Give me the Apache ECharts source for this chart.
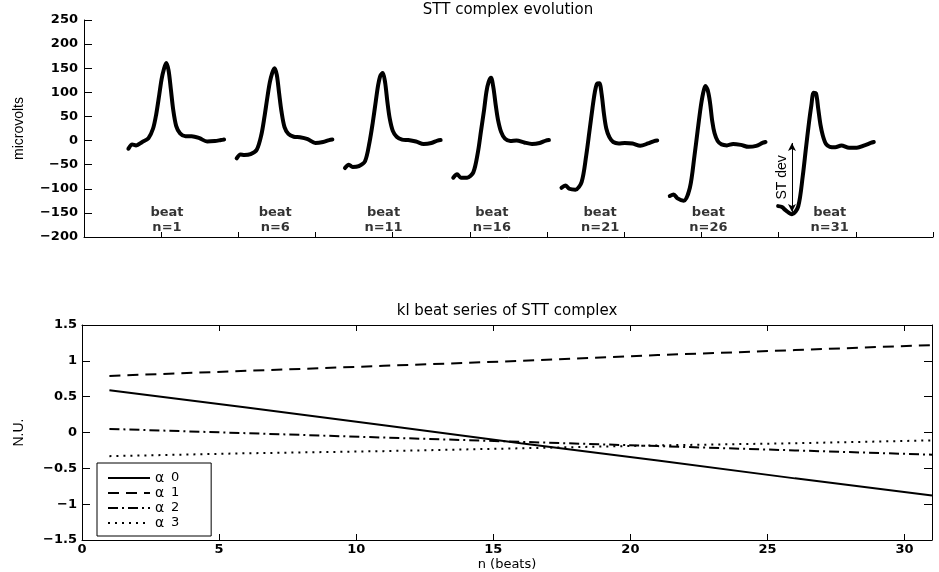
<!DOCTYPE html>
<html>
<head>
<meta charset="utf-8">
<script src="https://cdn.jsdelivr.net/npm/echarts@6/dist/echarts.min.js"></script>
<style>
  html, body { margin: 0; padding: 0; background: #fff; }
  #chart { width: 939px; height: 572px; }
</style>
</head>
<body>
<div id="chart"></div>
<script>
// ---- STT complex evolution (top panel) ----
// beats shown, and the sample offsets (within each beat) at which the waveform is given
const beatNumbers = [1, 6, 11, 16, 21, 26, 31];
const sampleOffsets = [0, 5, 10, 18, 26, 32, 36, 40, 43, 46, 49, 52, 55, 58, 62, 67, 74, 82, 92, 102, 112, 120, 124];

// STT waveforms in microvolts
const beatN1  = [-17, -8, -10, -3, 5, 25, 54, 95, 127, 148, 161, 146, 107, 65, 30, 15, 9, 9, 5, -2, -1, 1, 2];
const beatN6  = [-37, -29, -30, -28, -19, 12, 49, 92, 121, 140, 150, 136, 98, 61, 28, 14, 8, 7, 3, -5, -3, 1, 2];
const beatN11 = [-57, -50, -55, -53, -43, -2, 37, 82, 115, 135, 140, 121, 80, 46, 20, 8, 2, 1, -2, -7, -5, 0, 1];
const beatN16 = [-77, -70, -77, -77, -66, -24, 20, 64, 101, 122, 130, 110, 74, 43, 18, 4, -1, 0, -4, -7, -5, 0, 1];
const beatN21 = [-98, -93, -100, -102, -86, -31, 17, 66, 99, 118, 119, 96, 55, 25, 7, -3, -6, -5, -6, -11, -6, -1, 0];
const beatN26 = [-115, -112, -120, -125, -98, -31, 20, 69, 97, 113, 105, 80, 40, 15, -1, -8, -10, -7, -9, -13, -11, -5, -3];
const beatN31 = [-136, -138, -145, -153, -137, -73, -17, 37, 72, 99, 98, 66, 32, 10, -7, -13, -14, -10, -15, -15, -10, -5, -3];
const beatWaves = [beatN1, beatN6, beatN11, beatN16, beatN21, beatN26, beatN31];

// ST deviation of the last beat (bottom and top of the arrow, microvolts)
const stDev = [-148, -5];

const microvoltTicks = [-200, -150, -100, -50, 0, 50, 100, 150, 200, 250];
const sampleAxisExtent = [0, 1100];

// ---- KL beat series (bottom panel) ----
const klBeats = [1, 6, 11, 16, 21, 26, 31];
const alpha0 = [0.59, 0.35, 0.10, -0.15, -0.39, -0.64, -0.88];
const alpha1 = [0.79, 0.86, 0.93, 1.00, 1.08, 1.15, 1.22];
const alpha2 = [0.05, -0.01, -0.07, -0.13, -0.19, -0.25, -0.31];
const alpha3 = [-0.33, -0.29, -0.26, -0.22, -0.18, -0.15, -0.11];
const alphaNames = ['α0', 'α1', 'α2', 'α3'];
const nuTicks = [-1.5, -1, -0.5, 0, 0.5, 1, 1.5];
const beatTicks = [0, 5, 10, 15, 20, 25, 30];

// concatenated layout of the beats on the sample axis
const firstBeatStart = 57.5;
const beatSpacing = 140.3;

const WIDE = "'DejaVu Sans', 'Liberation Sans', sans-serif";
const NARROW = "'Liberation Sans', 'DejaVu Sans', sans-serif";
const minus = v => (v < 0 ? '\u2212' : '') + Math.abs(v);

const blackLine = { show: true, onZero: false, lineStyle: { color: '#000', width: 1 } };
const tickLabelStyle = { color: '#000', fontFamily: WIDE, fontSize: 13, fontWeight: 'bold' };

const beatSeries = beatWaves.map((wave, k) => {
  const start = firstBeatStart + k * beatSpacing;
  const s = {
    type: 'line',
    xAxisIndex: 0, yAxisIndex: 0,
    data: wave.map((v, i) => [start + sampleOffsets[i], v]),
    symbol: 'none',
    smooth: 0.3,
    lineStyle: { color: '#000', width: 4, cap: 'round', join: 'round' },
    silent: true
  };
  if (k === beatWaves.length - 1) {
    const ax = start + 18;
    s.markLine = {
      silent: true,
      symbol: ['arrow', 'arrow'],
      symbolSize: [6, 8],
      lineStyle: { color: '#000', width: 1, type: 'solid' },
      label: {
        show: true, formatter: 'ST dev', position: 'insideMiddleTop', distance: 3,
        color: '#000', fontFamily: NARROW, fontSize: 14
      },
      data: [[{ coord: [ax, stDev[0]] }, { coord: [ax, stDev[1]] }]]
    };
  }
  return s;
});

const beatLabelSeries = {
  type: 'scatter',
  xAxisIndex: 0, yAxisIndex: 0,
  symbolSize: 0,
  silent: true,
  data: beatNumbers.map((n, k) => {
    const item = { value: [firstBeatStart + k * beatSpacing + 50, -166] };
    if (k === beatNumbers.length - 1) item.label = { offset: [13, 0] };
    return item;
  }),
  label: {
    show: true, position: 'inside',
    formatter: p => 'beat\nn=' + beatNumbers[p.dataIndex],
    color: '#000', fontFamily: WIDE, fontSize: 13, fontWeight: 'bold', lineHeight: 15
  }
};

const alphaData = [alpha0, alpha1, alpha2, alpha3];
const alphaDash = ['solid', [11, 7], [10, 4, 2, 4], [2, 5]];
const alphaSeries = alphaData.map((vals, i) => ({
  type: 'line',
  name: alphaNames[i],
  xAxisIndex: 1, yAxisIndex: 1,
  data: klBeats.map((n, j) => [n, vals[j]]),
  symbol: 'none',
  lineStyle: { color: '#000', width: 2, type: alphaDash[i] },
  itemStyle: { color: '#000' },
  silent: true
}));

const option = {
  backgroundColor: '#fff',
  animation: false,
  title: [
    {
      text: 'STT complex evolution', left: 508, top: 3, textAlign: 'center', padding: 0,
      textStyle: { color: '#000', fontFamily: WIDE, fontSize: 15, fontWeight: 'normal' }
    },
    {
      text: 'kl beat series of STT complex', left: 507, top: 304, textAlign: 'center', padding: 0,
      textStyle: { color: '#000', fontFamily: WIDE, fontSize: 15, fontWeight: 'normal' }
    }
  ],
  grid: [
    { left: 84, right: 6, top: 20, height: 217 },
    { left: 82, right: 7, top: 325, height: 216 }
  ],
  legend: {
    data: alphaNames,
    orient: 'vertical',
    left: 97, top: 463,
    itemWidth: 42, itemHeight: 14, itemGap: 1,
    padding: [8, 32, 6, 10],
    borderColor: '#000', borderWidth: 1, backgroundColor: '#fff',
    selectedMode: false,
    itemStyle: { opacity: 0 },
    formatter: name => '{g|α}  {d|' + name.slice(1) + '}',
    textStyle: {
      color: '#000',
      rich: {
        g: { fontFamily: WIDE, fontSize: 14, color: '#000', lineHeight: 14 },
        d: { fontFamily: WIDE, fontSize: 13, color: '#000', lineHeight: 14 }
      }
    }
  },
  xAxis: [
    {
      gridIndex: 0, type: 'value',
      min: sampleAxisExtent[0], max: sampleAxisExtent[1], interval: 100,
      axisLine: blackLine,
      axisTick: { show: true, inside: true, length: 5, lineStyle: { color: '#000' } },
      axisLabel: { show: false },
      splitLine: { show: false }
    },
    {
      gridIndex: 1, type: 'value', position: 'bottom',
      min: beatTicks[0], max: 31, interval: 5,
      axisLine: blackLine,
      axisTick: { show: true, inside: true, length: 6, lineStyle: { color: '#000' } },
      axisLabel: Object.assign({ margin: 3, showMaxLabel: false }, tickLabelStyle),
      splitLine: { show: false },
      name: 'n (beats)', nameLocation: 'middle', nameGap: 18,
      nameTextStyle: { color: '#000', fontFamily: WIDE, fontSize: 13 }
    },
    {
      gridIndex: 1, type: 'value', position: 'top',
      min: beatTicks[0], max: 31, interval: 5,
      axisLine: blackLine,
      axisTick: { show: true, inside: true, length: 6, lineStyle: { color: '#000' } },
      axisLabel: { show: false },
      splitLine: { show: false }
    }
  ],
  yAxis: [
    {
      gridIndex: 0, type: 'value',
      min: microvoltTicks[0], max: microvoltTicks[microvoltTicks.length - 1], interval: 50,
      axisLine: blackLine,
      axisTick: { show: true, inside: true, length: 8, lineStyle: { color: '#000' } },
      axisLabel: Object.assign({ margin: 6, formatter: minus }, tickLabelStyle),
      splitLine: { show: false },
      name: 'microvolts', nameLocation: 'middle', nameGap: 58,
      nameTextStyle: { color: '#000', fontFamily: NARROW, fontSize: 14 }
    },
    {
      gridIndex: 1, type: 'value',
      min: nuTicks[0], max: nuTicks[nuTicks.length - 1], interval: 0.5,
      axisLine: blackLine,
      axisTick: { show: true, inside: true, length: 8, lineStyle: { color: '#000' } },
      axisLabel: Object.assign({ margin: 5, formatter: minus }, tickLabelStyle),
      splitLine: { show: false },
      name: 'N.U.', nameLocation: 'middle', nameGap: 56,
      nameTextStyle: { color: '#000', fontFamily: NARROW, fontSize: 14 }
    },
    {
      gridIndex: 1, type: 'value', position: 'right',
      min: nuTicks[0], max: nuTicks[nuTicks.length - 1], interval: 0.5,
      axisLine: blackLine,
      axisTick: { show: true, inside: true, length: 8, lineStyle: { color: '#000' } },
      axisLabel: { show: false },
      splitLine: { show: false }
    }
  ],
  series: [...beatSeries, beatLabelSeries, ...alphaSeries]
};

const chart = echarts.init(document.getElementById('chart'), null, { renderer: 'canvas' });
chart.setOption(option);
</script>
</body>
</html>
